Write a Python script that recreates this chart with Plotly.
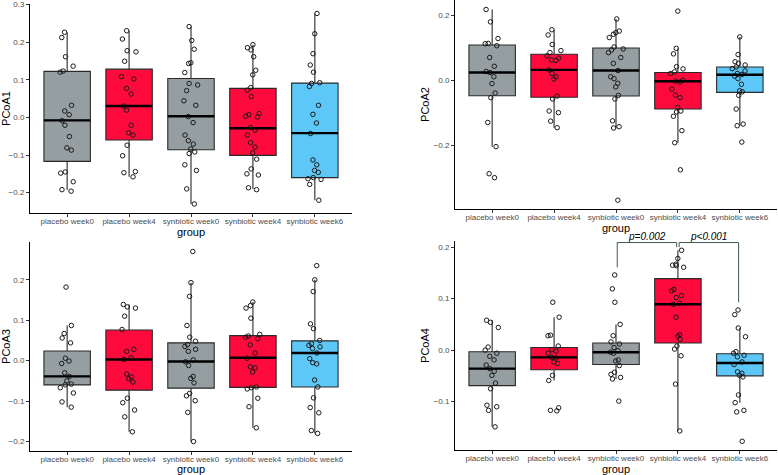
import plotly.graph_objects as go

groups = ["placebo week0", "placebo week4", "synbiotic week0", "synbiotic week4", "synbiotic week6"]
fills = ["#959FA1", "#FF0A3C", "#959FA1", "#FF0A3C", "#5DC8F8"]

# ---- PCoA1 ----
pcoa1_pts = [
    [0.226, 0.212, 0.161, 0.136, 0.123, 0.120, 0.032, 0.017, 0.007, -0.009, -0.021, -0.051, -0.081, -0.087, -0.145, -0.148, -0.171, -0.192, -0.196],
    [0.230, 0.208, 0.177, 0.174, 0.149, 0.108, 0.102, 0.077, 0.062, 0.030, 0.019, -0.021, -0.041, -0.047, -0.074, -0.102, -0.144, -0.147, -0.158],
    [0.241, 0.204, 0.181, 0.145, 0.143, 0.119, 0.090, 0.086, 0.071, 0.044, 0.032, 0.002, -0.014, -0.047, -0.062, -0.071, -0.084, -0.092, -0.096, -0.126, -0.141, -0.190, -0.230],
    [0.193, 0.185, 0.179, 0.161, 0.125, 0.113, 0.079, 0.072, 0.055, 0.010, 0.007, 0.003, 0.001, -0.027, -0.034, -0.047, -0.067, -0.079, -0.094, -0.111, -0.137, -0.150, -0.153, -0.187, -0.192],
    [0.276, 0.222, 0.169, 0.139, 0.120, 0.092, 0.090, 0.082, 0.032, 0.008, -0.015, -0.043, -0.113, -0.126, -0.141, -0.146, -0.160, -0.163, -0.165, -0.178, -0.220],
]
pcoa1_q1 = [-0.117, -0.060, -0.086, -0.101, -0.160]
pcoa1_med = [-0.008, 0.030, 0.003, -0.029, -0.042]
pcoa1_q3 = [0.122, 0.128, 0.103, 0.077, 0.091]
pcoa1_lo = [-0.193, -0.158, -0.230, -0.190, -0.220]
pcoa1_hi = [0.226, 0.230, 0.241, 0.193, 0.276]

# ---- PCoA2 ----
pcoa2_pts = [
    [0.217, 0.179, 0.128, 0.113, 0.112, 0.106, 0.070, 0.043, 0.027, 0.024, 0.011, -0.010, -0.039, -0.053, -0.129, -0.203, -0.286, -0.298],
    [0.155, 0.139, 0.110, 0.091, 0.085, 0.075, 0.068, 0.062, 0.061, 0.032, 0.021, 0.011, 0.004, -0.048, -0.057, -0.094, -0.099, -0.125, -0.145],
    [0.188, 0.151, 0.146, 0.141, 0.131, 0.102, 0.096, 0.093, 0.085, 0.070, 0.052, 0.030, 0.011, 0.005, -0.009, -0.020, -0.046, -0.057, -0.124, -0.142, -0.146, -0.367],
    [0.212, 0.098, 0.081, 0.042, 0.035, 0.026, 0.021, 0.000, -0.002, -0.005, -0.027, -0.045, -0.053, -0.083, -0.094, -0.097, -0.110, -0.154, -0.191, -0.274],
    [0.133, 0.079, 0.057, 0.052, 0.047, 0.041, 0.036, 0.029, 0.021, 0.018, 0.013, 0.005, -0.012, -0.032, -0.035, -0.046, -0.088, -0.134, -0.139, -0.189],
]
pcoa2_q1 = [-0.047, -0.052, -0.048, -0.088, -0.037]
pcoa2_med = [0.024, 0.032, 0.030, -0.003, 0.017]
pcoa2_q3 = [0.108, 0.080, 0.099, 0.024, 0.041]
pcoa2_lo = [-0.203, -0.145, -0.146, -0.191, -0.139]
pcoa2_hi = [0.217, 0.155, 0.188, 0.098, 0.133]

# ---- PCoA3 ----
pcoa3_pts = [
    [0.182, 0.087, 0.067, 0.056, 0.044, 0.006, -0.001, -0.007, -0.030, -0.039, -0.050, -0.058, -0.060, -0.067, -0.080, -0.102, -0.115],
    [0.139, 0.133, 0.130, 0.110, 0.077, 0.028, 0.023, 0.007, 0.003, -0.033, -0.040, -0.045, -0.053, -0.093, -0.104, -0.122, -0.139, -0.176],
    [0.270, 0.193, 0.159, 0.087, 0.058, 0.048, 0.040, 0.035, 0.028, 0.023, 0.002, -0.003, -0.012, -0.039, -0.044, -0.055, -0.081, -0.087, -0.099, -0.128, -0.200],
    [0.145, 0.136, 0.130, 0.105, 0.065, 0.061, 0.058, 0.054, 0.039, 0.019, 0.006, -0.015, -0.018, -0.028, -0.065, -0.067, -0.070, -0.093, -0.114, -0.166],
    [0.235, 0.200, 0.171, 0.091, 0.079, 0.050, 0.042, 0.038, 0.034, 0.030, 0.019, 0.005, -0.005, -0.008, -0.048, -0.065, -0.092, -0.116, -0.129, -0.173, -0.180],
]
pcoa3_q1 = [-0.060, -0.073, -0.068, -0.066, -0.065]
pcoa3_med = [-0.039, 0.003, -0.002, 0.007, 0.019]
pcoa3_q3 = [0.024, 0.076, 0.044, 0.062, 0.049]
pcoa3_lo = [-0.115, -0.176, -0.200, -0.166, -0.180]
pcoa3_hi = [0.087, 0.139, 0.193, 0.145, 0.200]

# ---- PCoA4 ----
pcoa4_pts = [
    [0.058, 0.054, 0.044, 0.006, 0.000, -0.006, -0.012, -0.019, -0.029, -0.036, -0.041, -0.049, -0.064, -0.075, -0.107, -0.110, -0.117, -0.149],
    [0.093, 0.064, 0.029, 0.028, 0.008, 0.001, -0.002, -0.006, -0.014, -0.015, -0.023, -0.026, -0.049, -0.059, -0.112, -0.117, -0.118],
    [0.146, 0.119, 0.093, 0.050, 0.028, 0.016, 0.012, 0.005, -0.001, -0.004, -0.006, -0.019, -0.021, -0.030, -0.043, -0.047, -0.053, -0.056, -0.099],
    [0.194, 0.178, 0.167, 0.165, 0.164, 0.161, 0.118, 0.115, 0.106, 0.102, 0.091, 0.089, 0.064, 0.030, 0.027, 0.021, 0.008, 0.002, -0.011, -0.066, -0.157],
    [0.078, 0.069, 0.043, 0.026, -0.003, -0.006, -0.010, -0.013, -0.023, -0.028, -0.042, -0.045, -0.049, -0.052, -0.087, -0.102, -0.117, -0.120, -0.177],
]
pcoa4_q1 = [-0.069, -0.038, -0.028, 0.014, -0.050]
pcoa4_med = [-0.036, -0.014, -0.004, 0.089, -0.025]
pcoa4_q3 = [-0.003, 0.005, 0.014, 0.139, -0.007]
pcoa4_lo = [-0.149, -0.059, -0.056, -0.157, -0.102]
pcoa4_hi = [0.058, 0.064, 0.050, 0.194, 0.043]

# significance brackets on PCoA4: (group a, group b, label)
sig_pairs = [(2, 3, "p=0.002"), (3, 4, "p<0.001")]
sig_level = 0.209

panels = [
    dict(name="PCoA1", pts=pcoa1_pts, q1=pcoa1_q1, med=pcoa1_med, q3=pcoa1_q3, lo=pcoa1_lo, hi=pcoa1_hi,
         yrange=[-0.254, 0.301], ticks=[-0.2, -0.1, 0.0, 0.1, 0.2, 0.3],
         xdom=[30 / 778, 352 / 778], ydom=[1 - 213 / 475, 1 - 4 / 475]),
    dict(name="PCoA2", pts=pcoa2_pts, q1=pcoa2_q1, med=pcoa2_med, q3=pcoa2_q3, lo=pcoa2_lo, hi=pcoa2_hi,
         yrange=[-0.394, 0.246], ticks=[-0.2, 0.0, 0.2],
         xdom=[455 / 778, 777 / 778], ydom=[1 - 209 / 475, 1.0]),
    dict(name="PCoA3", pts=pcoa3_pts, q1=pcoa3_q1, med=pcoa3_med, q3=pcoa3_q3, lo=pcoa3_lo, hi=pcoa3_hi,
         yrange=[-0.2235, 0.2935], ticks=[-0.2, -0.1, 0.0, 0.1, 0.2],
         xdom=[30 / 778, 352 / 778], ydom=[1 - 451 / 475, 1 - 242 / 475]),
    dict(name="PCoA4", pts=pcoa4_pts, q1=pcoa4_q1, med=pcoa4_med, q3=pcoa4_q3, lo=pcoa4_lo, hi=pcoa4_hi,
         yrange=[-0.194, 0.212], ticks=[-0.1, 0.0, 0.1, 0.2],
         xdom=[455 / 778, 777 / 778], ydom=[1 - 450 / 475, 1 - 241 / 475]),
]

box_w = 0.75
fig = go.Figure()
layout = dict()

for k, p in enumerate(panels, start=1):
    xa = "x" if k == 1 else f"x{k}"
    ya = "y" if k == 1 else f"y{k}"
    for i, g in enumerate(groups):
        # box from the quartiles
        fig.add_trace(go.Box(
            x=[i], q1=[p["q1"][i]], median=[p["med"][i]], q3=[p["q3"][i]],
            lowerfence=[p["lo"][i]], upperfence=[p["hi"][i]],
            width=box_w, whiskerwidth=0, fillcolor=fills[i],
            line=dict(color="#2a2a2a", width=1.1), boxpoints=False,
            xaxis=xa, yaxis=ya, showlegend=False, hoverinfo="skip"))
        # thick median like ggplot
        fig.add_trace(go.Scatter(
            x=[i - box_w / 2, i + box_w / 2], y=[p["med"][i]] * 2, mode="lines",
            line=dict(color="black", width=2.4), xaxis=xa, yaxis=ya,
            showlegend=False, hoverinfo="skip"))
        # jittered sample points
        fig.add_trace(go.Box(
            x=[i] * len(p["pts"][i]), y=p["pts"][i], width=box_w,
            boxpoints="all", jitter=0.35, pointpos=0,
            fillcolor="rgba(0,0,0,0)", line=dict(color="rgba(0,0,0,0)", width=0),
            marker=dict(symbol="circle-open", size=4.5, color="#1a1a1a", line=dict(width=1)),
            xaxis=xa, yaxis=ya, showlegend=False, hoverinfo="skip"))

    layout[f"xaxis{'' if k == 1 else k}"] = dict(
        domain=p["xdom"], anchor=ya, range=[-0.6, 4.6],
        tickvals=list(range(len(groups))), ticktext=groups,
        showline=True, linecolor="black", linewidth=1.1, ticks="outside",
        ticklen=3, tickcolor="#333333", tickwidth=1, ticklabelstandoff=-3,
        tickfont=dict(size=8, color="#4D4D4D"), showgrid=False, zeroline=False,
        title=dict(text="group", font=dict(size=11, color="black"), standoff=2),
        automargin=False)
    layout[f"yaxis{'' if k == 1 else k}"] = dict(
        domain=p["ydom"], anchor=xa, range=p["yrange"],
        tickvals=p["ticks"], tickformat=".1f",
        showline=True, linecolor="black", linewidth=1.1, ticks="outside",
        ticklen=3, tickcolor="#333333", tickwidth=1,
        tickfont=dict(size=8, color="#4D4D4D"), showgrid=False, zeroline=False,
        title=dict(text=p["name"], font=dict(size=11, color="black"), standoff=1),
        automargin=False)

# brackets for PCoA4
shapes = []
annotations = []
top4 = [max(v) for v in pcoa4_pts]
for a, b, label in sig_pairs:
    x0, x1 = a + 0.02, b - 0.02
    y0 = min(top4[a] + 0.015, sig_level - 0.009)
    y1 = min(top4[b] + 0.015, sig_level - 0.009)
    for seg in [(x0, y0, x0, sig_level), (x0, sig_level, x1, sig_level), (x1, sig_level, x1, y1)]:
        shapes.append(dict(type="line", xref="x4", yref="y4",
                           x0=seg[0], y0=seg[1], x1=seg[2], y1=seg[3],
                           line=dict(color="#3E5757", width=1)))
    annotations.append(dict(x=(x0 + x1) / 2, y=sig_level, xref="x4", yref="y4",
                            text=f"<i>{label}</i>", showarrow=False, yanchor="bottom",
                            yshift=-1, font=dict(size=10, color="black")))

fig.update_layout(
    **layout,
    shapes=shapes, annotations=annotations,
    boxmode="overlay", template="none",
    width=778, height=475, margin=dict(l=0, r=0, t=0, b=0),
    paper_bgcolor="white", plot_bgcolor="white",
    font=dict(family="Liberation Sans, Arial, sans-serif"),
)

# drop the page's default body margin so the figure sits at the top-left corner
fig.write_html("out.html", config={"displayModeBar": False},
               post_script="document.body.style.margin='0';")
